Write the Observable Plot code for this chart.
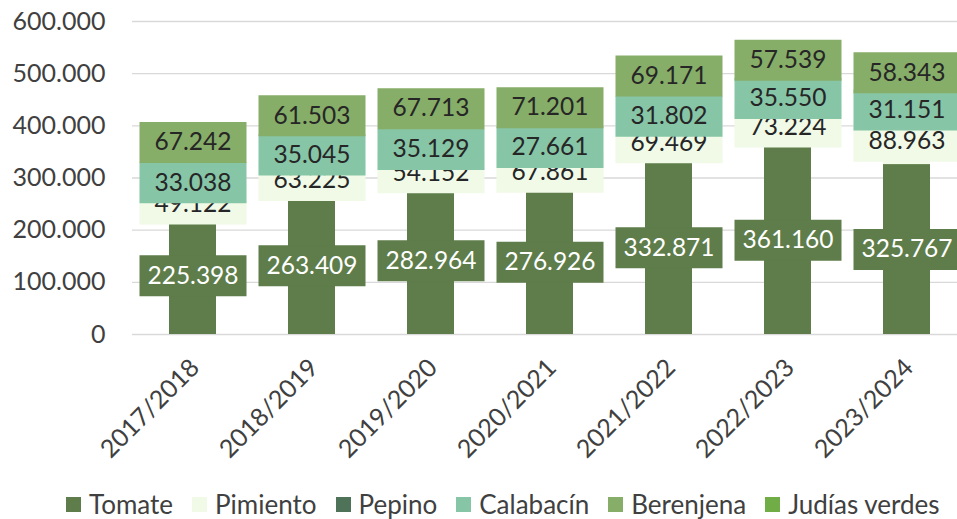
<!DOCTYPE html>
<html><head><meta charset="utf-8">
<script src="https://cdn.jsdelivr.net/npm/d3@7"></script>
<script src="https://cdn.jsdelivr.net/npm/@observablehq/plot@0.6"></script>
<style>
html,body{margin:0;padding:0;background:#fff;overflow:hidden;width:957px;height:519px;position:relative}
#legend{position:absolute;top:489px;left:66px;display:flex;align-items:center;font:26px Lato,sans-serif;line-height:31px;color:#404040;white-space:nowrap}
.item{display:flex;align-items:center;margin-right:19px}
.sw{width:15px;height:15px;margin-right:8px}
</style></head><body>
<div id="chart"></div><div id="legend"></div>
<script>
const years = ["2017/2018","2018/2019","2019/2020","2020/2021","2021/2022","2022/2023","2023/2024"];
const seriesNames = ["Tomate","Pimiento","Pepino","Calabacín","Berenjena","Judías verdes"];
const seriesColors = ["#5E7D4A","#F0FAE6","#4F7359","#86C5A6","#87AE68","#71AD47"];
const tomate    = [225398, 263409, 282964, 276926, 332871, 361160, 325767];
const pimiento  = [49122, 63225, 54152, 67861, 69469, 73224, 88963];
const calabacin = [33038, 35045, 35129, 27661, 31802, 35550, 31151];
const berenjena = [67242, 61503, 67713, 71201, 69171, 57539, 58343];
const yTicks = [0, 100000, 200000, 300000, 400000, 500000, 600000];

const plotted = [["Tomate", tomate], ["Pimiento", pimiento], ["Calabacín", calabacin], ["Berenjena", berenjena]];
const rows = [];
for (const [s, vals] of plotted) vals.forEach((v, i) => rows.push({year: years[i], series: s, value: v}));

const loc = d3.formatLocale({decimal: ",", thousands: ".", grouping: [3], currency: ["", "€"]});
const fmt = loc.format(",d");
const colorOf = s => seriesColors[seriesNames.indexOf(s)];
const textColor = {"Tomate": "#ffffff"};
const labelDy = {"Berenjena": -14};

const boxSymbol = {draw(ctx) {
  ctx.moveTo(-53.5, -20.5); ctx.lineTo(53.5, -20.5); ctx.lineTo(53.5, 20.5); ctx.lineTo(-53.5, 20.5); ctx.closePath();
}};

const labelMarks = [];
for (const [s] of plotted) {
  const dy = labelDy[s] || 0;
  labelMarks.push(Plot.dot(rows, Plot.stackY({x: "year", y: "value", z: "series",
    symbol: boxSymbol, fill: colorOf(s), stroke: "none",
    fillOpacity: d => d.series === s ? 1 : 0, dy})));
  labelMarks.push(Plot.text(rows, Plot.stackY({x: "year", y: "value", z: "series",
    text: d => d.series === s ? fmt(d.value) : "", fill: textColor[s] || "#262626",
    fontSize: 24.5, dy})));
}

const chart = Plot.plot({
  width: 957, height: 478,
  marginLeft: 132, marginRight: -10, marginTop: 21, marginBottom: 144,
  style: {fontFamily: "Lato, sans-serif", fontSize: "25px", color: "#404040", background: "white", overflow: "hidden"},
  x: {domain: years, paddingInner: 0.608, paddingOuter: 0.304, label: null},
  y: {domain: [0, 600000], label: null},
  color: {domain: seriesNames, range: seriesColors},
  opacity: {domain: [0, 1], range: [0, 1]},
  marks: [
    Plot.gridY(yTicks, {stroke: "#d9d9d9", strokeOpacity: 1, strokeWidth: 1.3}),
    Plot.axisY(yTicks, {tickSize: 0, tickPadding: 27, tickFormat: fmt, fontSize: 25, fill: "#404040", label: null}),
    Plot.axisX({tickSize: 0, tickRotate: -45, tickPadding: 29, dx: 2, fontSize: 25, fill: "#404040", label: null}),
    Plot.barY(rows, {x: "year", y: "value", fill: "series"}),
    ...labelMarks
  ]
});
document.getElementById("chart").appendChild(chart);

const legend = document.getElementById("legend");
seriesNames.forEach((s, i) => {
  const it = document.createElement("div"); it.className = "item";
  const sw = document.createElement("div"); sw.className = "sw"; sw.style.background = seriesColors[i];
  const tx = document.createElement("span"); tx.textContent = s;
  it.appendChild(sw); it.appendChild(tx); legend.appendChild(it);
});
</script>
</body></html>
